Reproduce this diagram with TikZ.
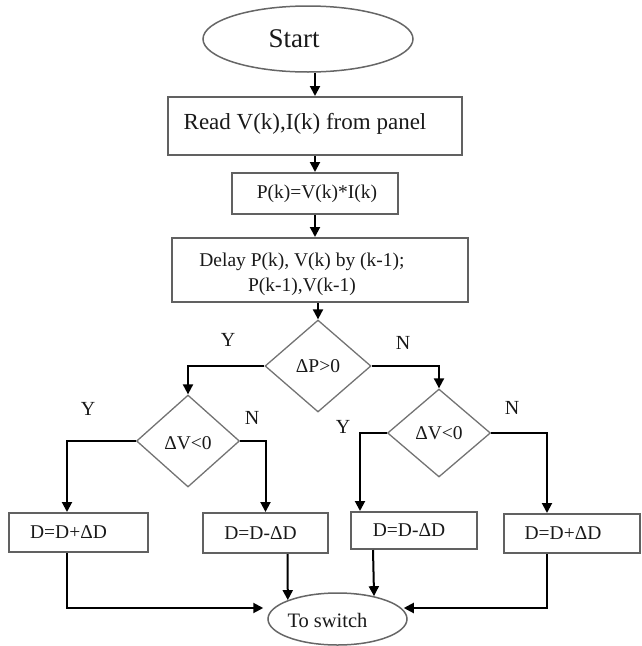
\documentclass[tikz,border=0pt]{standalone}
\usepackage{fontspec}
\setmainfont{Liberation Serif}
\usetikzlibrary{shapes.geometric,arrows.meta,calc}
\begin{document}
\begin{tikzpicture}[x=1pt,y=1pt,
  box/.style={draw=black!62, line width=2pt, rectangle, inner sep=0pt},
  dia/.style={draw=black!55, line width=1.3pt, diamond, inner sep=0pt},
  ell/.style={draw=black!60, line width=1.5pt, ellipse, inner sep=0pt},
  arr/.style={draw=black, line width=2pt, -{Triangle[length=10pt,width=10pt]}},
  txt/.style={text=black!90, font=\fontsize{19.5}{25}\selectfont, inner sep=0pt},
  yn/.style={text=black!90, font=\fontsize{20}{24}\selectfont, inner sep=0pt},
]
\useasboundingbox (0,0) rectangle (641,-646);
% nodes
\node[ell, minimum width=210pt, minimum height=66pt,
  label={[txt, font=\fontsize{27}{30}\selectfont, xshift=-14pt]center:{Start}}] (start) at (308,-39) {};
\node[box, minimum width=294pt, minimum height=58pt,
  label={[txt, font=\fontsize{23}{27}\selectfont, xshift=-10pt, yshift=2pt]center:{Read V(k),I(k) from panel}}] (read) at (315,-126) {};
\node[box, minimum width=166pt, minimum height=41pt,
  label={[txt, xshift=2pt]center:{P(k)=V(k)*I(k)}}] (pk) at (315,-193.5) {};
\node[box, minimum width=296pt, minimum height=64pt,
  label={[txt, align=center, xshift=-18pt, yshift=-4pt]center:{Delay P(k), V(k) by (k-1);\\P(k-1),V(k-1)}}] (delay) at (320,-270) {};
\node[dia, minimum width=106pt, minimum height=92pt,
  label={[txt]center:{ΔP>0}}] (d1) at (318,-366) {};
\node[dia, minimum width=103pt, minimum height=92pt,
  label={[txt, yshift=-2pt]center:{ΔV<0}}] (d2) at (188,-441) {};
\node[dia, minimum width=103pt, minimum height=88pt,
  label={[txt]center:{ΔV<0}}] (d3) at (439,-433) {};
\node[box, minimum width=139pt, minimum height=39pt,
  label={[txt, xshift=-10pt]center:{D=D+ΔD}}] (b4) at (78.5,-532.5) {};
\node[box, minimum width=125pt, minimum height=40pt,
  label={[txt, xshift=-5pt]center:{D=D-ΔD}}] (b5) at (265.5,-533) {};
\node[box, minimum width=126pt, minimum height=37pt,
  label={[txt, xshift=-5pt]center:{D=D-ΔD}}] (b6) at (414,-530.5) {};
\node[box, minimum width=136pt, minimum height=39pt,
  label={[txt, xshift=-9pt]center:{D=D+ΔD}}] (b7) at (572,-533.5) {};
\node[ell, minimum width=139pt, minimum height=52pt,
  label={[txt, font=\fontsize{20.5}{24}\selectfont, xshift=-10pt, yshift=-1pt]center:{To switch}}] (sw) at (337.5,-619) {};
% Y/N labels
\node[yn] (y1) at (228,-340) {Y};
\node[yn] (n1) at (403,-343) {N};
\node[yn] (y2) at (88,-409) {Y};
\node[yn] (n2) at (252,-418) {N};
\node[yn] (y3) at (343,-427) {Y};
\node[yn] (n3) at (512,-408) {N};
% connectors
\draw[arr] (start.south -| read.north) -- (read.north);
\draw[arr] (read.south) -- (pk.north);
\draw[arr] (pk.south) -- (pk.south |- delay.north);
\draw[arr] (delay.south -| d1.north) -- (d1.north);
\draw[arr] (d1.west) -| (d2.north);
\draw[arr] (d1.east) -| (d3.north);
\draw[arr] (d2.west) -| ([xshift=-11.5pt]b4.north);
\draw[arr] (d2.east) -| (b5.north);
\draw[arr] (d3.west) -| ([xshift=-54pt]b6.north);
\draw[arr] (d3.east) -| ([xshift=-25pt]b7.north);
\draw[arr] ([xshift=-11.5pt]b4.south) |- ([xshift=-4pt,yshift=11pt]sw.west);
\draw[arr] ([xshift=22pt]b5.south) -- (sw.north west);
\draw[arr] ([xshift=-41pt]b6.south) -- (sw.32);
\draw[arr] ([xshift=-25pt]b7.south) |- ([xshift=-4pt,yshift=11pt]sw.east);
\end{tikzpicture}
\end{document}
